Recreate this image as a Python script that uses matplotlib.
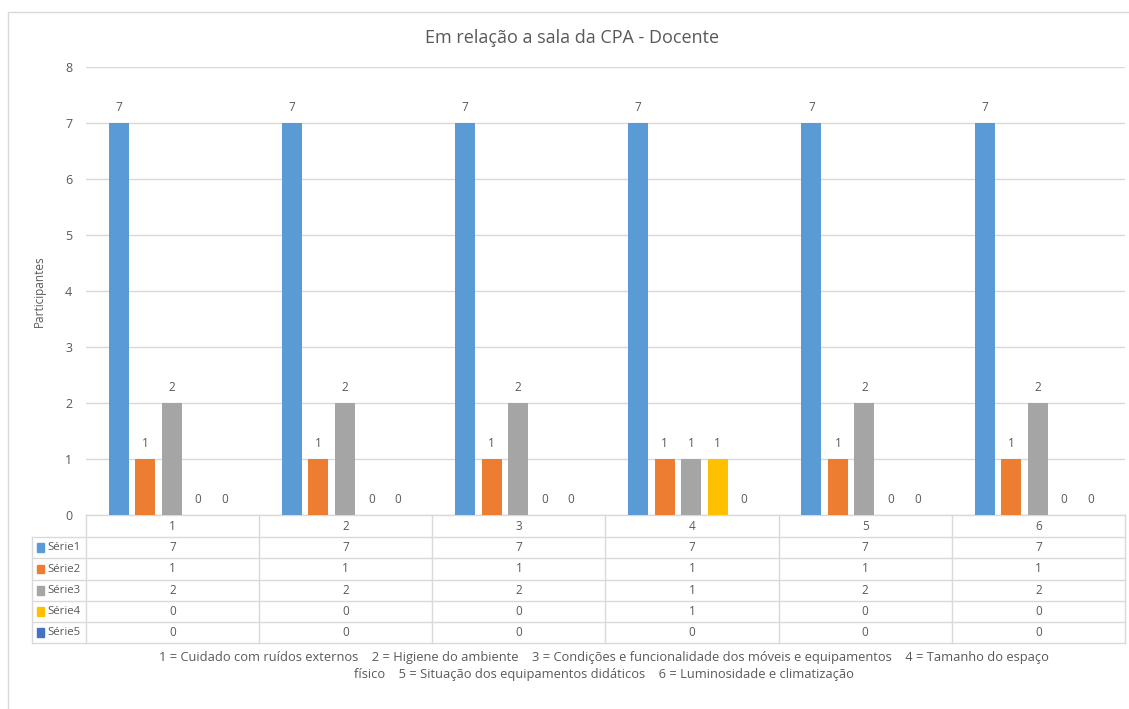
import matplotlib.pyplot as plt
import matplotlib.transforms as mtransforms
from matplotlib.patches import Rectangle
import numpy as np

plt.rcParams['font.family'] = ['Open Sans', 'DejaVu Sans']

categories = ['1', '2', '3', '4', '5', '6']
series_names = ['Série1', 'Série2', 'Série3', 'Série4', 'Série5']
serie1 = [7, 7, 7, 7, 7, 7]
serie2 = [1, 1, 1, 1, 1, 1]
serie3 = [2, 2, 2, 1, 2, 2]
serie4 = [0, 0, 0, 1, 0, 0]
serie5 = [0, 0, 0, 0, 0, 0]
colors = ['#5B9BD5', '#ED7D31', '#A5A5A5', '#FFC000', '#4472C4']
title = 'Em relação a sala da CPA - Docente'
ylabel = 'Participantes'
footer = ('1 = Cuidado com ruídos externos    2 = Higiene do ambiente    3 = Condições e funcionalidade dos móveis e equipamentos    4 = Tamanho do espaço\n'
          'físico    5 = Situação dos equipamentos didáticos    6 = Luminosidade e climatização')

all_series = [serie1, serie2, serie3, serie4, serie5]
txt = '#595959'
grid = '#d9d9d9'

fig = plt.figure(figsize=(11.29, 7.09), dpi=100)
W, H = 1129, 709
ax = fig.add_axes([86 / W, 1 - 515 / H, (1125 - 86) / W, (515 - 67) / H])

x = np.arange(1, len(categories) + 1)
step = 0.153
bw = 0.116
for i, (vals, c) in enumerate(zip(all_series, colors)):
    pos = x + (i - 2) * step - 0.005
    ax.bar(pos, vals, width=bw, color=c, zorder=3)
    for p, v in zip(pos, vals):
        ax.annotate(str(v), (p, v), xytext=(0, 6.5), textcoords='offset points',
                    ha='center', va='bottom', fontsize=8.5, color=txt)

ax.set_xlim(0.5, len(categories) + 0.5)
ax.set_ylim(0, 8)
ax.set_yticks(range(0, 9))
ax.yaxis.grid(True, color=grid, lw=1, zorder=0)
ax.set_xticks([])
for s in ax.spines.values():
    s.set_visible(False)
ax.tick_params(axis='y', length=0, labelsize=9, labelcolor=txt, pad=10)
ax.set_ylabel(ylabel, fontsize=8.5, color=txt, labelpad=14)

# data table below the axis
axh = 515 - 67
rows_px = [515, 537, 558, 580, 601, 622, 643]
rows = [(515 - r) / axh for r in rows_px]
leg_left = -(86 - 32) / (1125 - 86)
tr = mtransforms.blended_transform_factory(ax.transData, ax.transAxes)
lk = dict(color=grid, lw=1, clip_on=False)
ax.plot([0.5, len(categories) + 0.5], [0, 0], transform=tr, **lk)
for r in rows[1:]:
    ax.plot([leg_left, 1], [r, r], transform=ax.transAxes, **lk)
for b in np.arange(0.5, len(categories) + 1, 1):
    ax.plot([b, b], [rows[0], rows[-1]], transform=tr, **lk)
ax.plot([leg_left, leg_left], [rows[1], rows[-1]], transform=ax.transAxes, **lk)

for xi, cat in zip(x, categories):
    ax.text(xi, (rows[0] + rows[1]) / 2, cat, transform=tr, ha='center', va='center',
            fontsize=8.5, color=txt)
for j, (name, vals, c) in enumerate(zip(series_names, all_series, colors)):
    yc = (rows[j + 1] + rows[j + 2]) / 2
    ax.add_patch(Rectangle((leg_left + 0.005, yc - 0.009), 0.007, 0.018,
                           transform=ax.transAxes, color=c, clip_on=False))
    ax.text(leg_left + 0.015, yc, name, transform=ax.transAxes, ha='left', va='center',
            fontsize=8.2, color=txt)
    for xi, v in zip(x, vals):
        ax.text(xi, yc, str(v), transform=tr, ha='center', va='center',
                fontsize=8.5, color=txt)

fig.text(572 / W, 1 - 38 / H, title, ha='center', va='center', fontsize=13, color=txt)
fig.text(604 / W, 1 - 666 / H, footer, ha='center', va='center', fontsize=9.3,
         color=txt, linespacing=1.4)

fig.patches.append(Rectangle((8 / W, -0.05), 1.2, 1 - 12 / H + 0.05, transform=fig.transFigure,
                             fill=False, edgecolor=grid, lw=1))

fig.savefig('out.png', dpi=100)
